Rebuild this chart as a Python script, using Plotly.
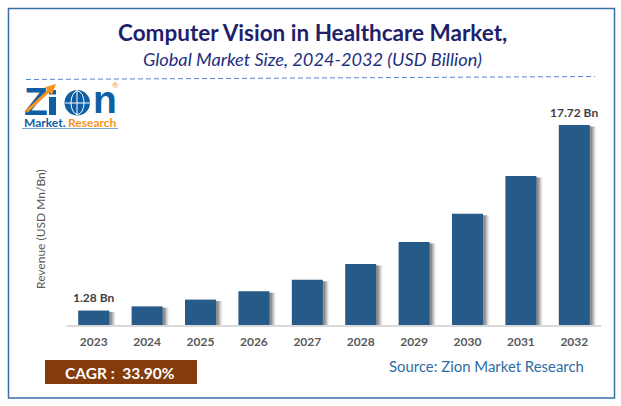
import plotly.graph_objects as go

years = ["2023", "2024", "2025", "2026", "2027", "2028", "2029", "2030", "2031", "2032"]
values = [1.28, 1.65, 2.25, 2.98, 4.0, 5.4, 7.35, 9.85, 13.2, 17.72]
labels = ["1.28 Bn", "", "", "", "", "", "", "", "", "17.72 Bn"]

W, H = 621, 406
ML, MR, MT, MB = 67, 20, 100, 81
FONT = "Lato"


def px(x):
    return (x - ML) / (W - ML - MR)


def py(y):
    return 1 - (y - MT) / (H - MT - MB)


fig = go.Figure()

# soft shadow to the lower right of the bars
for shift, alpha in [(0.125, 0.05), (0.105, 0.10), (0.085, 0.16), (0.065, 0.22), (0.045, 0.28)]:
    fig.add_bar(x=years, y=[v - 0.12 for v in values], width=0.58, offset=-0.29 + shift,
                marker=dict(color=f"rgba(70,70,70,{alpha})", line=dict(width=0)),
                hoverinfo="skip", showlegend=False)

fig.add_bar(x=years, y=values, width=0.58, offset=-0.29,
            marker=dict(color="#255A89", line=dict(width=0)), showlegend=False)

# numeric-looking categories are addressed by their serial position on a category axis
for i, (value, label) in enumerate(zip(values, labels)):
    if label:
        fig.add_annotation(xref="x", yref="y", x=i, y=value, text=label, showarrow=False,
                           yanchor="middle", yshift=13,
                           font=dict(family=FONT, size=12, color="#404040", weight="bold"))


def note(x, y, text, size, color, anchor="center", bold=False, italic=False, angle=0, family=FONT):
    fig.add_annotation(xref="paper", yref="paper", x=px(x), y=py(y), text=text, showarrow=False,
                       xanchor=anchor, yanchor="middle", textangle=angle,
                       font=dict(family=family, size=size, color=color,
                                 weight="bold" if bold else "normal",
                                 style="italic" if italic else "normal"))


def shape(kind, x0, y0, x1, y1, **kw):
    fig.add_shape(type=kind, xref="paper", yref="paper", x0=px(x0), y0=py(y0), x1=px(x1), y1=py(y1),
                  layer=kw.pop("layer", "above"), **kw)


# frame and header
shape("rect", 8.5, 8.5, 614.5, 398, line=dict(color="#3A6EA5", width=1.5), layer="below")
shape("line", 26, 79.5, 595, 76.5, line=dict(color="#5B86CC", width=1, dash="5px,3px"))
note(312, 32, "Computer Vision in Healthcare Market,", 22.5, "#1F1F6B", bold=True)
note(312, 59, "Global Market Size, 2024-2032 (USD Billion)", 18.2, "#1F2F80", italic=True)

# y axis caption, CAGR box, source
note(40, 229, "Revenue (USD Mn/Bn)", 12, "#595959", angle=-90)
shape("rect", 45, 360, 197, 384, fillcolor="#843C0C", line=dict(width=0))
note(120, 372.5, "CAGR :  33.90%", 15.5, "#FFFFFF", bold=True)
note(486.5, 366, "Source: Zion Market Research", 14.9, "#2E6DA4")

# logo
BLUE, ORANGE = "#0F5FA5", "#F7941D"
note(35.5, 101, "Z", 39, BLUE, bold=True, family="Liberation Sans")
shape("rect", 49, 97, 56, 115, fillcolor=BLUE, line=dict(width=0))
shape("rect", 49, 90, 56, 94.5, fillcolor=BLUE, line=dict(width=0))
shape("circle", 64.5, 90, 90, 115.5, fillcolor=BLUE, line=dict(width=0))
shape("circle", 71, 91, 84, 114.5, line=dict(color="white", width=1))
shape("line", 77, 90, 77, 115, line=dict(color="white", width=1))
shape("line", 65, 103, 90, 103, line=dict(color="white", width=1))
note(105, 99, "n", 39, BLUE, bold=True, family="Liberation Sans")
fig.add_annotation(xref="paper", yref="paper", x=px(56), y=py(84), ax=-31, ay=29, text="", showarrow=True,
                   arrowhead=2, arrowsize=0.7, arrowwidth=3, arrowcolor=ORANGE)
note(45, 122.5, "Market.", 12, BLUE, bold=True)
note(92, 122.5, "Research", 12, ORANGE, bold=True)
shape("line", 22, 128.5, 118, 128.5, line=dict(color="#7FA6CC", width=1))
note(115, 85, "®", 8, ORANGE)

fig.update_layout(
    width=W, height=H, barmode="overlay", plot_bgcolor="white", paper_bgcolor="white",
    margin=dict(l=ML, r=MR, t=MT, b=MB), bargap=0.42,
    xaxis=dict(type="category", showline=True, linecolor="#D9D9D9", linewidth=1.5, showgrid=False,
               ticks="outside", ticklen=5, tickcolor="rgba(0,0,0,0)",
               tickfont=dict(family=FONT, size=12, color="#595959", weight="bold"),
               range=[-0.5, 9.5]),
    yaxis=dict(visible=False, range=[0, 19.94]),
)

fig.write_html("out.html", config=dict(displayModeBar=False),
               post_script="document.body.style.margin='0';document.body.style.overflow='hidden';")
